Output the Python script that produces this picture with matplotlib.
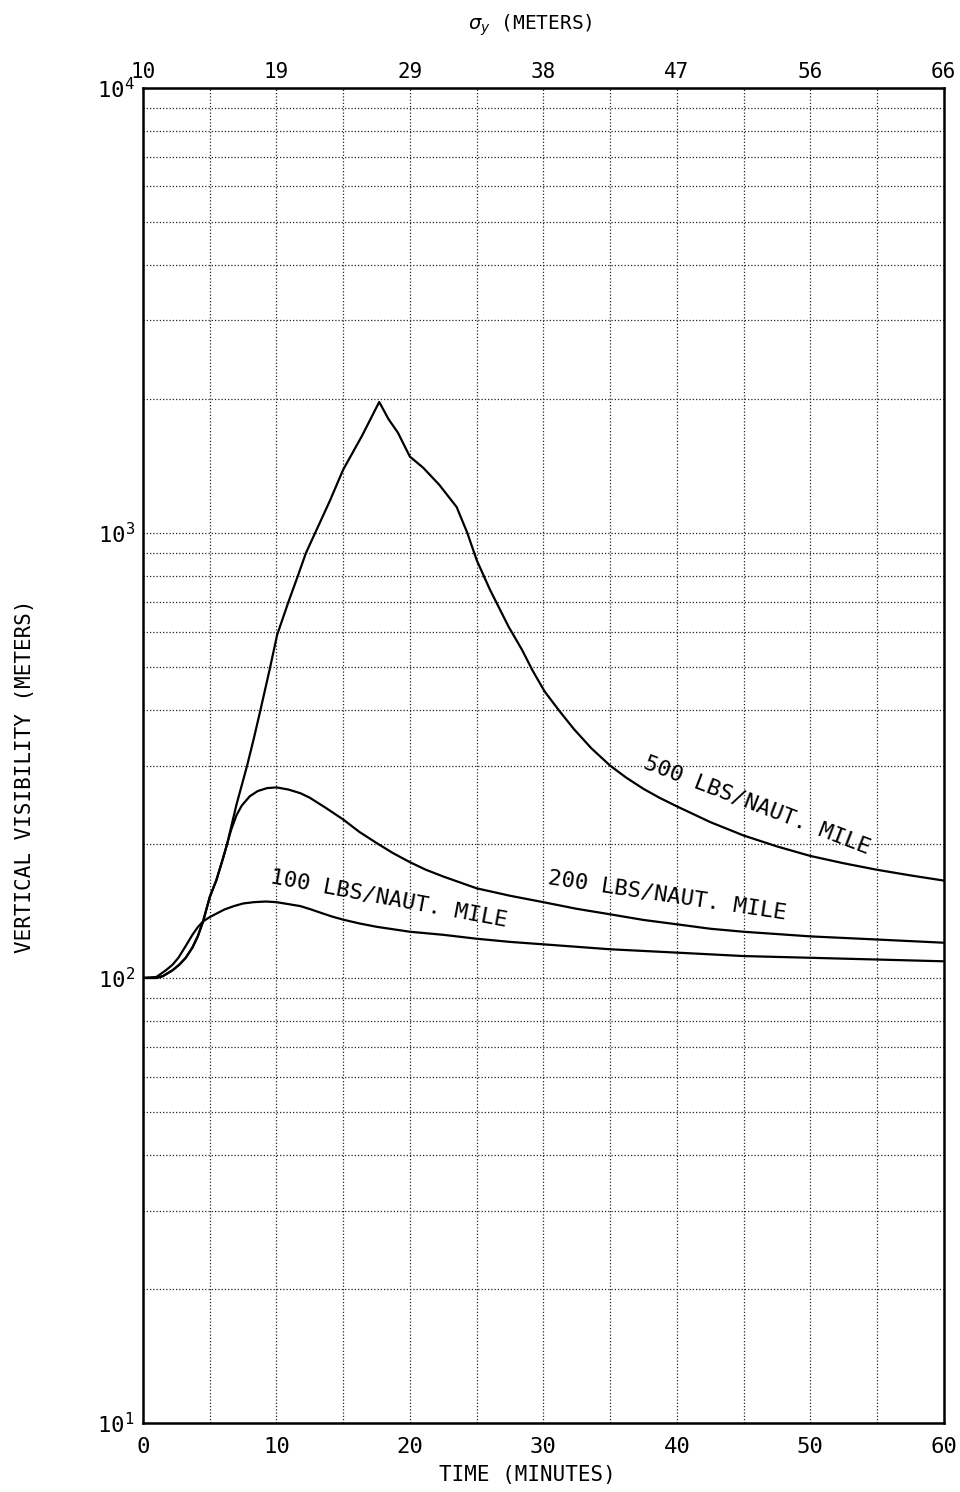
import numpy as np
import matplotlib.pyplot as plt
from matplotlib.ticker import FixedLocator, MultipleLocator, LogLocator, NullFormatter

# time (minutes) vs vertical visibility (meters) for three release rates
t_100 = [0, 1, 1.7, 2.2, 2.65, 3.2, 3.7, 4.1, 4.5, 5.0, 5.4, 6.1, 6.8, 7.5, 8.3, 9.2,
         10, 10.9, 11.8, 12.6, 13.5, 14.2, 15, 16.2, 17.5, 20, 22.5, 25, 27.5, 30,
         35, 40, 45, 50, 55, 60]
vis_100 = [100, 100.5, 104, 107, 111, 118, 125, 130, 134, 137, 139, 142.5, 145, 147, 148, 148.5,
           148, 146.5, 145, 142.5, 139.5, 137.3, 135.2, 132.6, 130.3, 127, 125, 122.5, 120.5, 119,
           116, 114, 112, 111, 110, 109]

t_200 = [0, 1, 1.5, 2.2, 2.7, 3.2, 3.7, 4.1, 4.5, 5, 5.5, 6.0, 6.3, 6.6, 7.0, 7.4, 8.0,
         8.6, 9.3, 10, 10.9, 11.8, 12.5, 13.7, 15, 16.2, 17.5, 18.7, 20, 21.2, 22.5,
         25, 27.5, 30, 32.5, 35, 37.5, 40, 42.5, 45, 47.5, 50, 55, 60]
vis_200 = [100, 100, 101, 104, 107, 111, 117, 124, 134, 152, 166, 186, 200, 215, 232, 244, 256,
           263, 267, 268, 265, 260, 254, 241, 227, 213, 201, 191, 182, 175, 169,
           159, 153, 148, 143, 139, 135, 132, 129, 127, 125.5, 124, 122, 120]

t_500 = [0, 1, 1.5, 2.2, 2.7, 3.2, 3.7, 4.1, 4.5, 5, 5.5, 6.0, 6.3, 7.0, 7.8, 8.3, 8.8,
         9.5, 10.05, 10.9, 11.6, 12.2, 12.9, 14, 15, 16.4, 17.7, 18.4, 19.1, 20, 21,
         22.2, 23.5, 24.3, 25, 26, 27.4, 28.4, 29.2, 30.1, 31.2, 32.3, 33.6, 35, 36.2,
         37.5, 38.7, 40, 42.5, 45, 47.5, 50, 52.5, 55, 57.5, 60]
vis_500 = [100, 100, 101, 104, 107, 111, 117, 124, 134, 152, 166, 186, 200, 245, 300, 345, 400,
           495, 590, 700, 800, 900, 1000, 1180, 1387, 1650, 1968, 1800, 1679, 1483, 1400,
           1282, 1143, 1000, 869, 745, 615, 546, 490, 440, 398, 362, 328, 300, 282,
           266, 254, 243, 224, 209, 197.5, 188, 181, 175, 170, 165.5]

# sigma_y (meters) shown on the top axis at each 10 minutes
time_ticks = [0, 10, 20, 30, 40, 50, 60]
sigma_y = [10, 19, 29, 38, 47, 56, 66]

mono = 'DejaVu Sans Mono'

fig = plt.figure(figsize=(9.6, 14.92), dpi=100)
ax = fig.add_axes([0.149, 0.0462, 0.834, 0.895])

for t, v in [(t_100, vis_100), (t_200, vis_200), (t_500, vis_500)]:
    ax.plot(t, v, color='black', lw=1.6, solid_joinstyle='round')

ax.set_yscale('log')
ax.set_xlim(0, 60)
ax.set_ylim(10, 1e4)

ax.xaxis.set_major_locator(FixedLocator(time_ticks))
ax.xaxis.set_minor_locator(MultipleLocator(5))
ax.yaxis.set_major_locator(LogLocator(base=10, numticks=10))
ax.yaxis.set_minor_locator(LogLocator(base=10, subs=np.arange(2, 10), numticks=100))
ax.yaxis.set_minor_formatter(NullFormatter())

grid_kw = dict(color='0.15', lw=0.9, linestyle=(0, (1, 1.6)))
ax.grid(True, which='both', axis='both', **grid_kw)
ax.tick_params(which='both', length=0)
ax.tick_params(axis='x', pad=10)
ax.tick_params(axis='y', pad=6)
for lab in ax.get_xticklabels() + ax.get_yticklabels():
    lab.set_fontfamily(mono)
    lab.set_fontsize(16)

for sp in ax.spines.values():
    sp.set_linewidth(1.8)

top = ax.secondary_xaxis('top')
top.set_xticks(time_ticks)
top.set_xticklabels([str(s) for s in sigma_y], family=mono, fontsize=15)
top.tick_params(length=0, pad=4)

fig.text(0.552, 0.983, r'$\sigma_y$ (METERS)', ha='center', va='center',
         family=mono, fontsize=14)
fig.text(0.549, 0.0114, 'TIME (MINUTES)', ha='center', va='center',
         family=mono, fontsize=15)
fig.text(0.026, 0.48, 'VERTICAL VISIBILITY (METERS)', ha='center', va='center',
         rotation=90, family=mono, fontsize=15)

label_kw = dict(ha='center', va='center', family=mono, fontsize=16,
                rotation_mode='anchor')
ax.text(18.4, 151, '100 LBS/NAUT. MILE', rotation=-10.5, **label_kw)
ax.text(39.3, 153, '200 LBS/NAUT. MILE', rotation=-8.5, **label_kw)
ax.text(46.0, 245, '500 LBS/NAUT. MILE', rotation=-21, **label_kw)

fig.savefig('out.png', dpi=100)
